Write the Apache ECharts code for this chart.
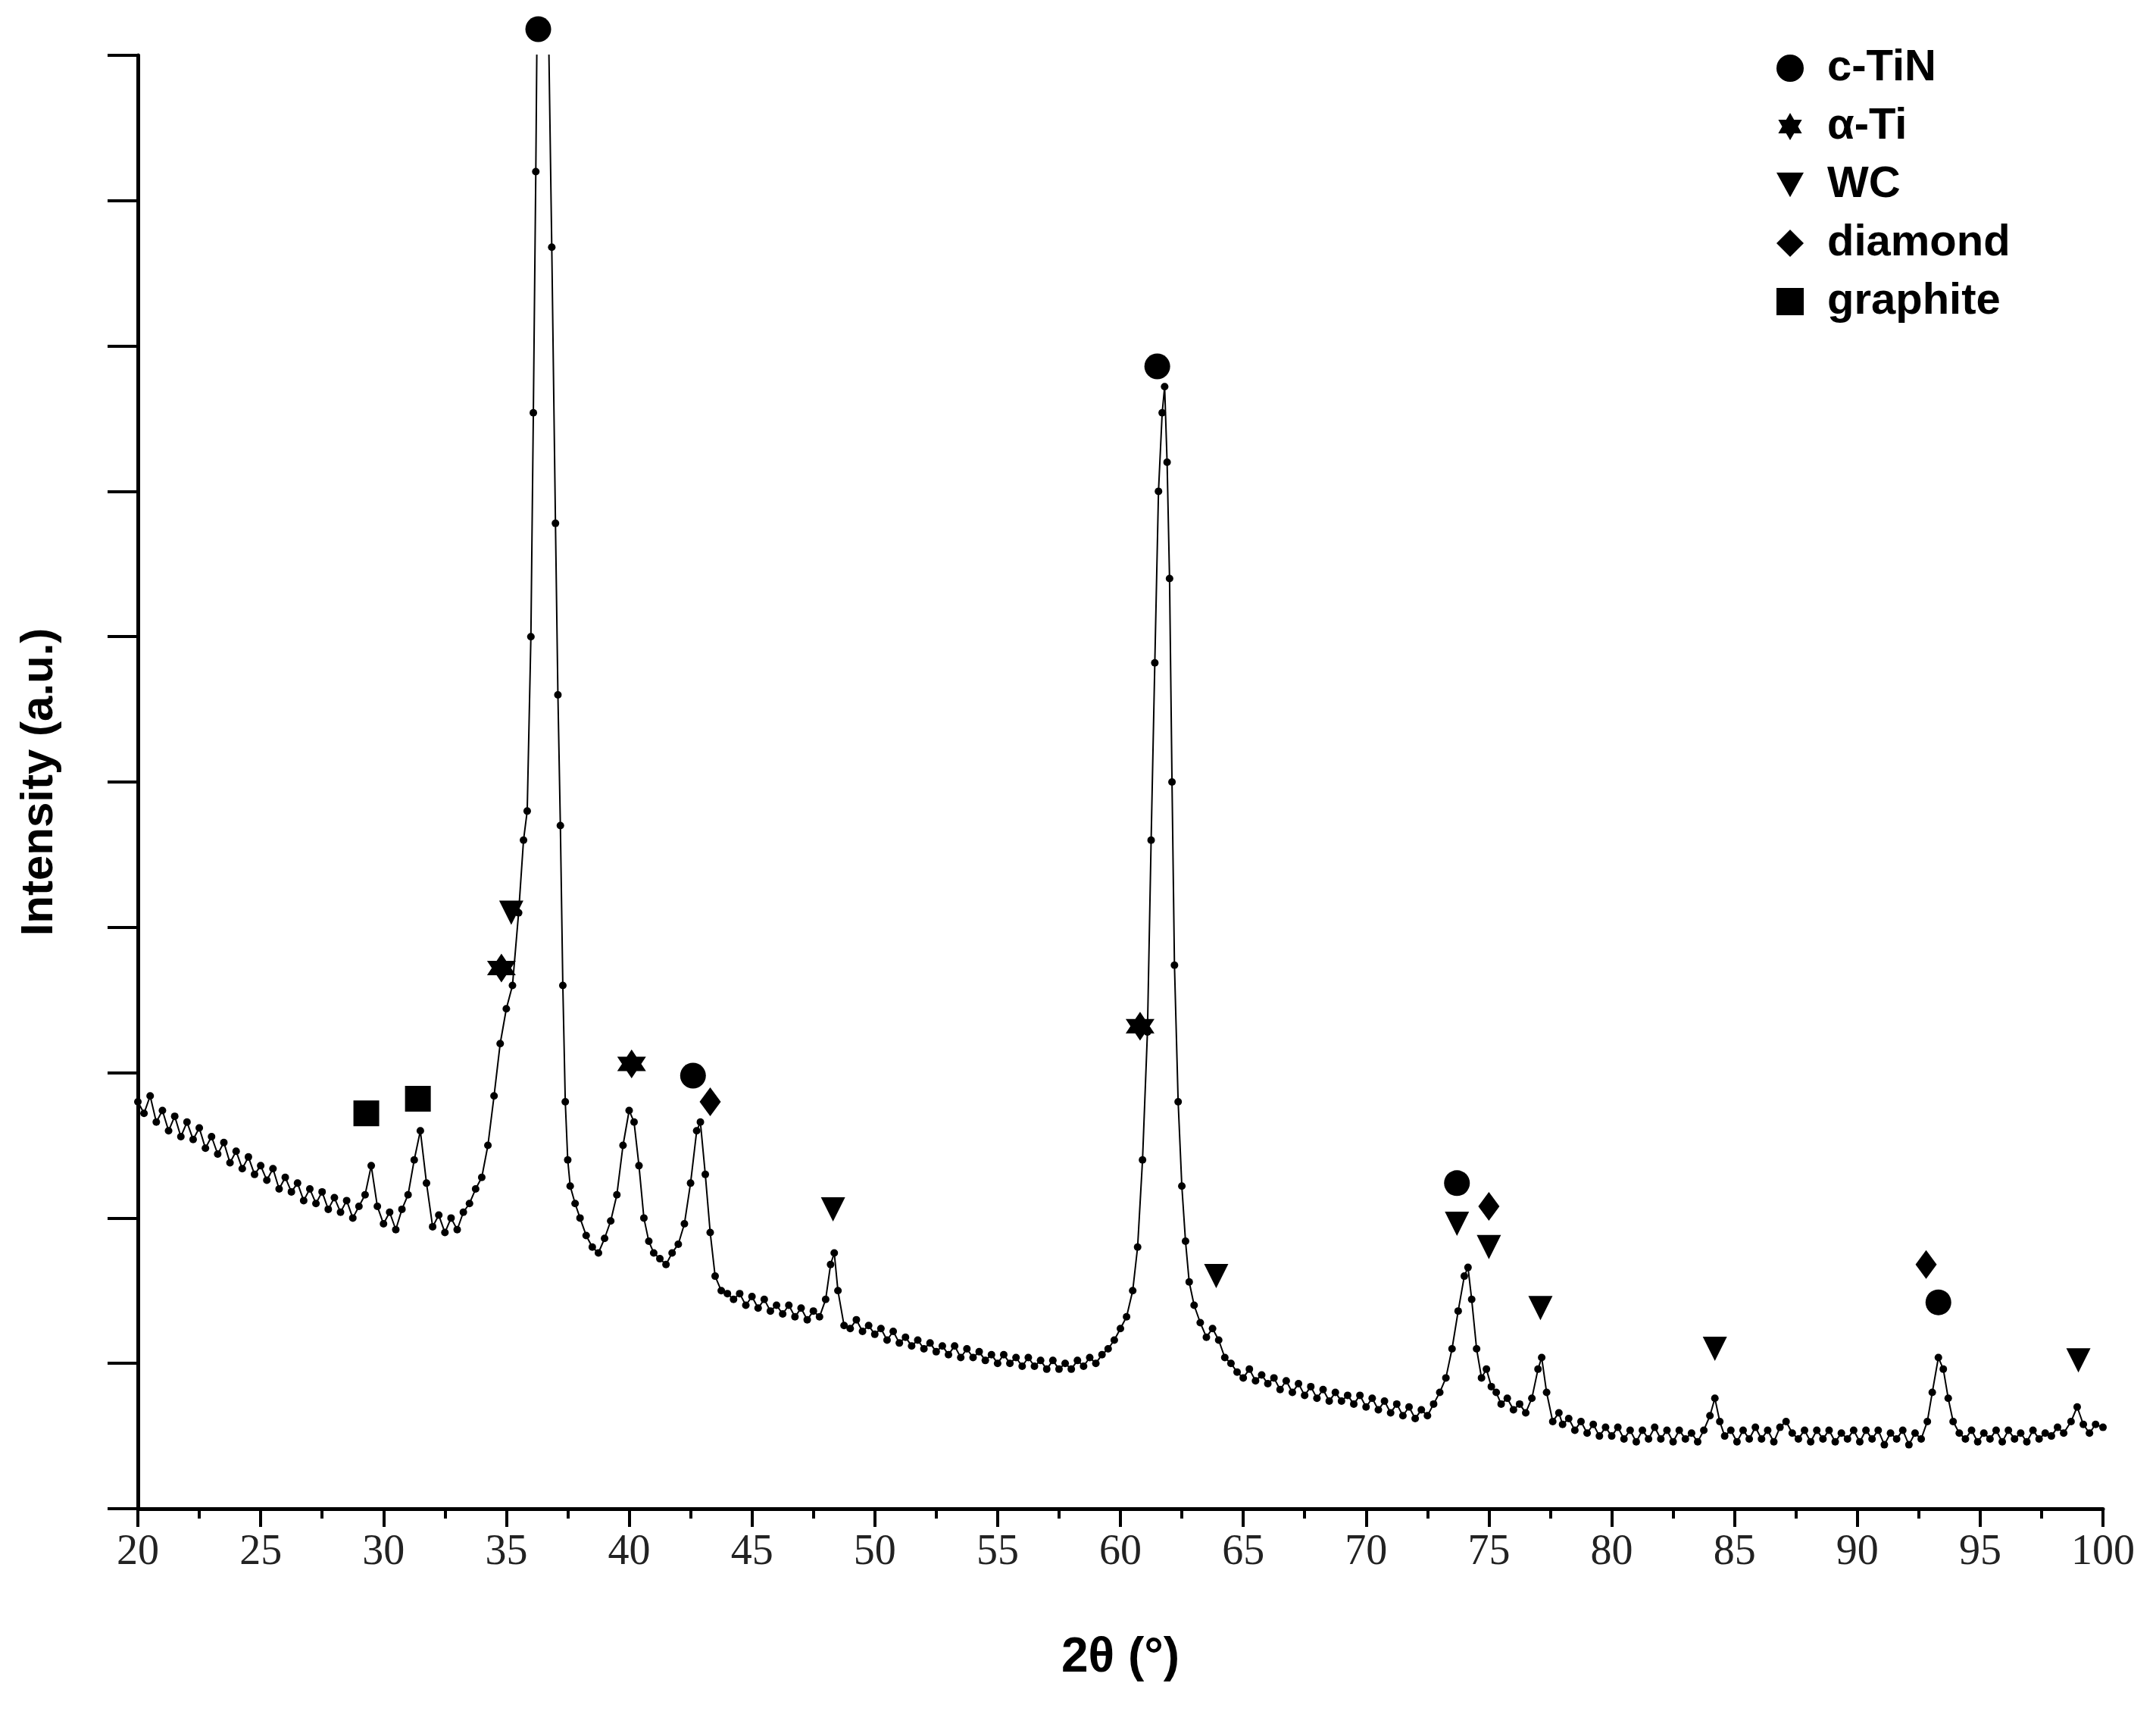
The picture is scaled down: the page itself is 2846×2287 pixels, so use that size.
<!DOCTYPE html>
<html><head><meta charset="utf-8">
<script src="https://cdn.jsdelivr.net/npm/echarts@6/dist/echarts.min.js"></script>
<style>html,body{margin:0;padding:0;background:#fff}#c{width:2846px;height:2287px}</style>
</head><body><div id="c"></div>
<script>
const xrdPairs = [
[20,1.40],[20.25,1.36],[20.5,1.42],[20.75,1.33],[21,1.37],[21.25,1.30],[21.5,1.35],[21.75,1.28],[22,1.33],[22.25,1.27],[22.5,1.31],[22.75,1.24],[23,1.28],[23.25,1.22],[23.5,1.26],[23.75,1.19],[24,1.23],[24.25,1.17],[24.5,1.21],[24.75,1.15],[25,1.18],[25.25,1.13],[25.5,1.17],[25.75,1.10],[26,1.14],[26.25,1.09],[26.5,1.12],[26.75,1.06],[27,1.10],[27.25,1.05],[27.5,1.09],[27.75,1.03],[28,1.07],[28.25,1.02],[28.5,1.06],[28.75,1.00],[29,1.04],[29.25,1.08],[29.5,1.18],[29.75,1.04],[30,0.98],[30.25,1.02],[30.5,0.96],[30.75,1.03],[31,1.08],[31.25,1.20],[31.5,1.30],[31.75,1.12],[32,0.97],[32.25,1.01],[32.5,0.95],[32.75,1.00],[33,0.96],[33.25,1.02],[33.5,1.05],[33.75,1.10],[34,1.14],
[34.25,1.25],[34.5,1.42],[34.75,1.60],[35,1.72],[35.25,1.80],[35.5,2.05],[35.7,2.30],[35.85,2.40],[36,3.00],[36.1,3.77],[36.2,4.60],[36.3,5.6],[36.5,6.2],[36.7,5.2],[36.85,4.34],[37,3.39],[37.1,2.80],[37.2,2.35],[37.3,1.80],[37.4,1.40],[37.5,1.20],[37.6,1.11],[37.8,1.05],[38,1.00],[38.25,0.94],[38.5,0.90],[38.75,0.88],[39,0.93],[39.25,0.99],[39.5,1.08],[39.75,1.25],[40,1.37],[40.2,1.33],[40.4,1.18],[40.6,1.00],[40.8,0.92],[41,0.88],[41.25,0.86],[41.5,0.84],[41.75,0.88],[42,0.91],[42.25,0.98],[42.5,1.12],[42.75,1.30],[42.9,1.33],[43.1,1.15],[43.3,0.95],[43.5,0.80],[43.75,0.75],[44,0.74],[44.25,0.72],[44.5,0.74],[44.75,0.70],[45,0.73],[45.25,0.69],[45.5,0.72],[45.75,0.68],[46,0.70],[46.25,0.67],[46.5,0.70],[46.75,0.66],[47,0.69],[47.25,0.65],[47.5,0.68],[47.75,0.66],[48,0.72],[48.2,0.84],[48.35,0.88],[48.5,0.75],[48.75,0.63],[49,0.62],[49.25,0.65],[49.5,0.61],[49.75,0.63],[50,0.60],
[50.25,0.62],[50.5,0.58],[50.75,0.61],[51,0.57],[51.25,0.59],[51.5,0.56],[51.75,0.58],[52,0.55],[52.25,0.57],[52.5,0.54],[52.75,0.56],[53,0.53],[53.25,0.56],[53.5,0.52],[53.75,0.55],[54,0.52],[54.25,0.54],[54.5,0.51],[54.75,0.53],[55,0.50],[55.25,0.53],[55.5,0.50],[55.75,0.52],[56,0.49],[56.25,0.52],[56.5,0.49],[56.75,0.51],[57,0.48],[57.25,0.51],[57.5,0.48],[57.75,0.50],[58,0.48],[58.25,0.51],[58.5,0.49],[58.75,0.52],[59,0.50],[59.25,0.53],[59.5,0.55],[59.75,0.58],[60,0.62],[60.25,0.66],[60.5,0.75],[60.7,0.90],[60.9,1.20],[61.1,1.64],[61.25,2.30],[61.4,2.91],[61.55,3.50],[61.7,3.77],[61.8,3.86],[61.9,3.60],[62,3.20],[62.1,2.50],[62.2,1.87],[62.35,1.40],[62.5,1.11],[62.65,0.92],[62.8,0.78],[63,0.70],[63.25,0.64],[63.5,0.59],[63.75,0.62],[64,0.58],[64.25,0.52],[64.5,0.50],[64.75,0.47],[65,0.45],[65.25,0.48],[65.5,0.44],[65.75,0.46],[66,0.43],
[66.25,0.45],[66.5,0.41],[66.75,0.44],[67,0.40],[67.25,0.43],[67.5,0.39],[67.75,0.42],[68,0.38],[68.25,0.41],[68.5,0.37],[68.75,0.40],[69,0.37],[69.25,0.39],[69.5,0.36],[69.75,0.39],[70,0.35],[70.25,0.38],[70.5,0.34],[70.75,0.37],[71,0.33],[71.25,0.36],[71.5,0.32],[71.75,0.35],[72,0.31],[72.25,0.34],[72.5,0.32],[72.75,0.36],[73,0.40],[73.25,0.45],[73.5,0.55],[73.75,0.68],[74,0.80],[74.15,0.83],[74.3,0.72],[74.5,0.55],[74.7,0.45],[74.9,0.48],[75.1,0.42],[75.3,0.40],[75.5,0.36],[75.75,0.38],[76,0.34],[76.25,0.36],[76.5,0.33],[76.75,0.38],[77,0.48],[77.15,0.52],[77.35,0.40],[77.6,0.30],[77.85,0.33],[78,0.29],[78.25,0.31],[78.5,0.27],[78.75,0.30],[79,0.26],[79.25,0.29],[79.5,0.25],[79.75,0.28],
[80,0.25],[80.25,0.28],[80.5,0.24],[80.75,0.27],[81,0.23],[81.25,0.27],[81.5,0.24],[81.75,0.28],[82,0.24],[82.25,0.27],[82.5,0.23],[82.75,0.27],[83,0.24],[83.25,0.26],[83.5,0.23],[83.75,0.27],[84,0.32],[84.2,0.38],[84.4,0.30],[84.6,0.25],[84.85,0.27],[85.1,0.23],[85.35,0.27],[85.6,0.24],[85.85,0.28],[86.1,0.24],[86.35,0.27],[86.6,0.23],[86.85,0.28],[87.1,0.30],[87.35,0.26],[87.6,0.24],[87.85,0.27],[88.1,0.23],[88.35,0.27],[88.6,0.24],[88.85,0.27],[89.1,0.23],[89.35,0.26],[89.6,0.24],[89.85,0.27],[90.1,0.23],[90.35,0.27],[90.6,0.24],[90.85,0.27],[91.1,0.22],[91.35,0.26],[91.6,0.24],[91.85,0.27],[92.1,0.22],[92.35,0.26],[92.6,0.24],[92.85,0.30],[93.05,0.40],[93.3,0.52],[93.5,0.48],[93.7,0.38],[93.9,0.30],[94.15,0.26],[94.4,0.24],[94.65,0.27],[94.9,0.23],[95.15,0.26],[95.4,0.24],[95.65,0.27],[95.9,0.23],[96.15,0.27],[96.4,0.24],[96.65,0.26],[96.9,0.23],[97.15,0.27],[97.4,0.24],[97.65,0.26],[97.9,0.25],[98.15,0.28],[98.4,0.26],[98.7,0.30],[98.95,0.35],[99.2,0.29],[99.45,0.26],[99.7,0.29],[100,0.28]
];
const phaseNames = ['c-TiN','α-Ti','WC','diamond','graphite'];
const markTiN = [[36.3,5.09],[61.5,3.93],[42.6,1.49],[73.7,1.12],[93.3,0.71]];
const markTi = [[34.8,1.86],[40.1,1.53],[60.8,1.66]];
const markWC = [[35.2,2.05],[48.3,1.03],[63.9,0.80],[73.7,0.98],[75.0,0.90],[77.1,0.69],[84.2,0.55],[99.0,0.51]];
const markDia = [[43.3,1.40],[75.0,1.04],[92.8,0.84]];
const markGr = [[29.3,1.36],[31.4,1.41]];
const xTicks = [20,25,30,35,40,45,50,55,60,65,70,75,80,85,90,95,100];

const star = 'path://M0,-10L2.9,-5L8.66,-5L5.8,0L8.66,5L2.9,5L0,10L-2.9,5L-8.66,5L-5.8,0L-8.66,-5L-2.9,-5Z';
const symbols = ['circle', star, 'path://M-10,-8L10,-8L0,10Z', 'diamond', 'rect'];
const sizes = [34, 38, 32, [28,38], 34];
const marks = [markTiN, markTi, markWC, markDia, markGr];

const chart = echarts.init(document.getElementById('c'));
const series = [{
  type:'line', data:xrdPairs, symbol:'circle', symbolSize:10, showSymbol:true,
  lineStyle:{color:'#000',width:2}, itemStyle:{color:'#000',opacity:1}, clip:true, silent:true, z:2
}];
phaseNames.forEach((n,i)=>series.push({
  type:'scatter', name:n, data:marks[i], symbol:symbols[i], symbolSize:sizes[i],
  itemStyle:{color:'#000',opacity:1}, clip:false, z:5
}));
chart.setOption({
  animation:false,
  backgroundColor:'#fff',
  grid:{left:182,right:70,top:73,bottom:296},
  legend:{
    orient:'vertical', left:2340, top:56, itemGap:19, itemWidth:36, itemHeight:36,
    data:phaseNames.map((n,i)=>({name:n, icon:symbols[i]})),
    itemStyle:{color:'#000',opacity:1},
    textStyle:{fontFamily:'Liberation Sans',fontWeight:'bold',fontSize:58,color:'#000',padding:[0,0,0,26]}
  },
  xAxis:{
    type:'value', min:20, max:100, interval:5,
    name:'2θ (°)', nameLocation:'middle', nameGap:165,
    nameTextStyle:{fontFamily:'Liberation Sans',fontWeight:'bold',fontSize:64,color:'#000'},
    axisLine:{onZero:false,lineStyle:{color:'#000',width:5}},
    axisTick:{inside:false,length:24,lineStyle:{color:'#000',width:4}},
    minorTick:{show:true,splitNumber:2,length:13,lineStyle:{color:'#000',width:4}},
    splitLine:{show:false},
    axisLabel:{fontFamily:'Liberation Serif',fontSize:56,color:'#222',margin:30,
      formatter:v=>xTicks.includes(v)?String(v):''}
  },
  yAxis:{
    type:'value', min:0, max:5, interval:1,
    name:'Intensity (a.u.)', nameLocation:'middle', nameGap:100, nameRotate:90,
    nameTextStyle:{fontFamily:'Liberation Sans',fontWeight:'bold',fontSize:60,color:'#000'},
    axisLine:{show:true,lineStyle:{color:'#000',width:5}},
    axisTick:{show:true,inside:false,length:40,lineStyle:{color:'#000',width:4}},
    minorTick:{show:true,splitNumber:2,length:40,lineStyle:{color:'#000',width:4}},
    splitLine:{show:false},
    axisLabel:{show:false}
  },
  series
});
</script></body></html>
